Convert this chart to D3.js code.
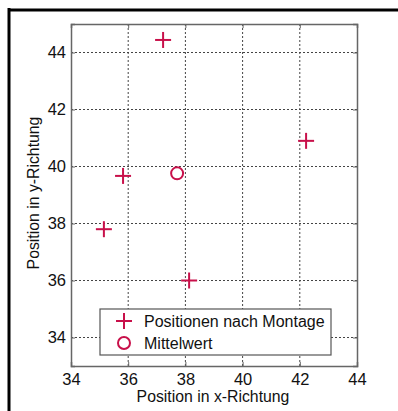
<!DOCTYPE html>
<html>
<head>
<meta charset="utf-8">
<script src="https://cdn.jsdelivr.net/npm/d3@7"></script>
<style>
  body { margin: 0; background: #fff; }
  text { font-family: "Liberation Sans", Arial, sans-serif; fill: #111; }
</style>
</head>
<body>
<script>
// data
var pointsX = [37.22, 35.82, 42.22, 35.15, 38.13];
var pointsY = [44.44, 39.67, 40.9, 37.8, 36.0];
var meanX = [37.71];
var meanY = [39.76];
var xTicks = [34, 36, 38, 40, 42, 44];
var yTicks = [34, 36, 38, 40, 42, 44];
var legendLabels = ["Positionen nach Montage", "Mittelwert"];

var W = 398, H = 411;
var margin = {left: 71, right: 41, top: 24, bottom: 45},
  width = W - margin.left - margin.right,
  height = H - margin.top - margin.bottom;

var red = "#c8104a";

var svg = d3.select("body").append("svg")
  .attr("width", W)
  .attr("height", H);

// outer frame (top + left only visible)
svg.append("line").attr("x1", 8).attr("x2", W).attr("y1", 10).attr("y2", 10)
  .attr("stroke", "#000").attr("stroke-width", 3);
svg.append("line").attr("x1", 9).attr("x2", 9).attr("y1", 8).attr("y2", H)
  .attr("stroke", "#000").attr("stroke-width", 3);

var x = d3.scaleLinear().domain([34, 44]).range([0, width]);
var y = d3.scaleLinear().domain([33, 45]).range([height, 0]);

var g = svg.append("g").attr("transform", "translate(" + margin.left + "," + margin.top + ")");

// grid
g.append("g").selectAll("line").data(xTicks.slice(1, -1)).enter().append("line")
  .attr("x1", function(d) { return x(d); }).attr("x2", function(d) { return x(d); })
  .attr("y1", 0).attr("y2", height)
  .attr("stroke", "#444").attr("stroke-width", 1).attr("stroke-dasharray", "2,2");
g.append("g").selectAll("line").data(yTicks).enter().append("line")
  .attr("x1", 0).attr("x2", width)
  .attr("y1", function(d) { return y(d); }).attr("y2", function(d) { return y(d); })
  .attr("stroke", "#444").attr("stroke-width", 1).attr("stroke-dasharray", "2,2");

// axes
var xAxis = g.append("g").attr("transform", "translate(0," + height + ")")
  .call(d3.axisBottom(x).tickValues(xTicks).tickSize(-4).tickPadding(7));
var yAxis = g.append("g")
  .call(d3.axisLeft(y).tickValues(yTicks).tickSize(-4).tickPadding(5));
g.append("g").attr("transform", "translate(" + width + ",0)")
  .call(d3.axisRight(y).tickValues(yTicks).tickSize(-4).tickFormat(""));
g.append("g")
  .call(d3.axisTop(x).tickValues(xTicks).tickSize(-4).tickFormat(""));

g.selectAll(".domain").attr("stroke", "#666").attr("stroke-width", 1.5);
g.selectAll(".tick line").attr("stroke", "#666");
g.selectAll(".tick text").style("font-size", "16.5px").attr("fill", "#111")
  .style("font-family", "'Liberation Sans', Arial, sans-serif");

// axis labels
svg.append("text")
  .attr("x", margin.left + width / 2 - 1).attr("y", 402)
  .attr("text-anchor", "middle").style("font-size", "15.8px")
  .text("Position in x-Richtung");
svg.append("text")
  .attr("transform", "translate(39," + 193 + ") rotate(-90)")
  .attr("text-anchor", "middle").style("font-size", "15.8px")
  .text("Position in y-Richtung");

// markers
function plus(sel, cx, cy) {
  sel.append("line").attr("x1", cx - 8).attr("x2", cx + 8).attr("y1", cy).attr("y2", cy)
    .attr("stroke", red).attr("stroke-width", 2);
  sel.append("line").attr("x1", cx).attr("x2", cx).attr("y1", cy - 8).attr("y2", cy + 8)
    .attr("stroke", red).attr("stroke-width", 2);
}
pointsX.forEach(function(px, i) {
  plus(g, x(px), y(pointsY[i]));
});
g.selectAll("circle.mean").data(meanX).enter().append("circle")
  .attr("class", "mean")
  .attr("cx", function(d) { return x(d); })
  .attr("cy", function(d, i) { return y(meanY[i]); })
  .attr("r", 6).attr("fill", "none").attr("stroke", red).attr("stroke-width", 2);

// legend
var lg = svg.append("g");
lg.append("rect").attr("x", 100).attr("y", 309).attr("width", 231).attr("height", 46)
  .attr("fill", "#fff").attr("stroke", "#555").attr("stroke-width", 1.2);
plus(lg, 124, 321);
lg.append("circle").attr("cx", 124).attr("cy", 343).attr("r", 6)
  .attr("fill", "none").attr("stroke", red).attr("stroke-width", 2);
lg.selectAll("text").data(legendLabels).enter().append("text")
  .attr("x", 144).attr("y", function(d, i) { return 327 + i * 22; })
  .style("font-size", "16px")
  .text(function(d) { return d; });
</script>
</body>
</html>
